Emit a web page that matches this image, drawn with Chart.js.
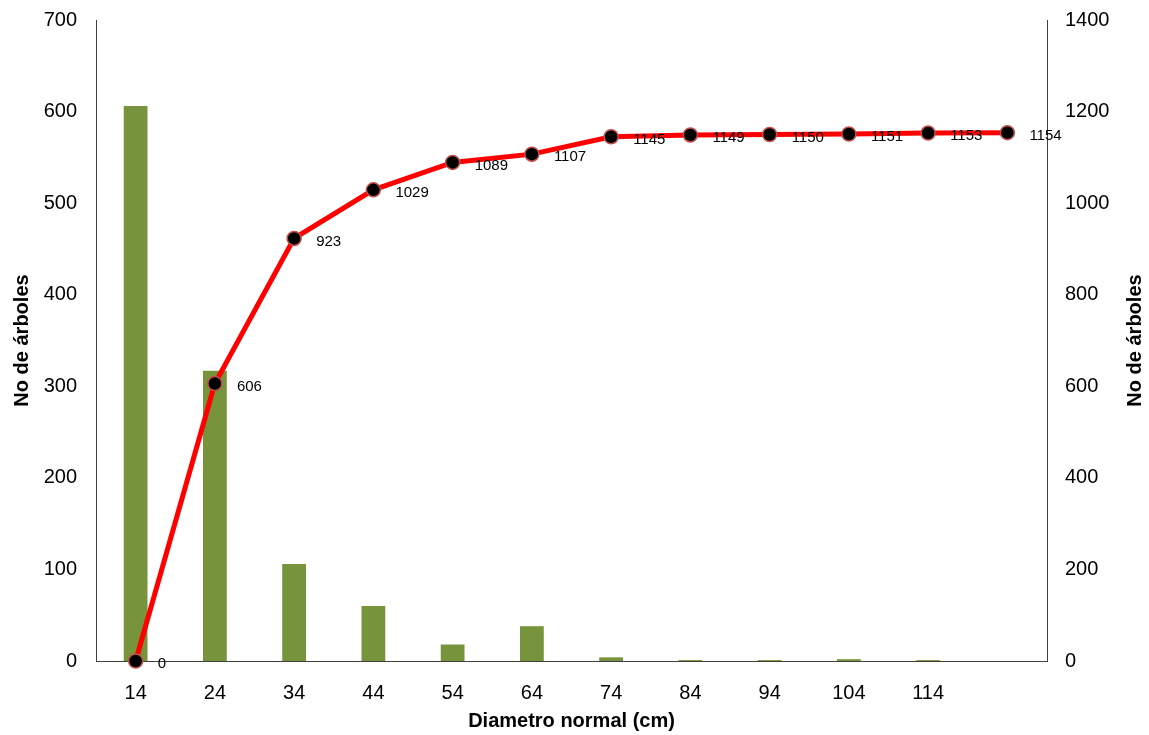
<!DOCTYPE html>
<html lang="es">
<head>
  <meta charset="UTF-8">
  <title>Distribución diamétrica</title>
  <script src="https://cdn.jsdelivr.net/npm/chart.js"></script>
  <style>
    body { margin: 0; background: #fff; overflow: hidden; }
    /* canvas pulled up a little so the plot starts at the same height as the original */
    #wrap { width: 1149px; height: 746px; margin-top: -11px; }
  </style>
</head>
<body>
  <div id="wrap"><canvas id="chart"></canvas></div>

  <script>
    // data
    const diametros = ['14', '24', '34', '44', '54', '64', '74', '84', '94', '104', '114', ''];
    const arboles = [606, 317, 106, 60, 18, 38, 4, 1, 1, 2, 1, null];
    const acumulado = [0, 606, 923, 1029, 1089, 1107, 1145, 1149, 1150, 1151, 1153, 1154];

    const fontFamily = '"Liberation Sans", Arial, sans-serif';
    const rightTitle = 'No de árboles';

    // value labels beside each point of the line, and the right axis title (rotated like the left one)
    const extras = {
      id: 'extras',
      afterDatasetsDraw(chart) {
        const ctx = chart.ctx;
        const meta = chart.getDatasetMeta(1);
        ctx.save();
        ctx.font = '15px ' + fontFamily;
        ctx.fillStyle = '#000';
        ctx.textAlign = 'left';
        ctx.textBaseline = 'middle';
        meta.data.forEach(function (pt, i) {
          ctx.fillText(String(acumulado[i]), pt.x + 22, pt.y + 3);
        });
        ctx.restore();
      },
      afterDraw(chart) {
        const ctx = chart.ctx;
        const area = chart.chartArea;
        ctx.save();
        ctx.translate(1135, (area.top + area.bottom) / 2);
        ctx.rotate(-Math.PI / 2);
        ctx.font = 'bold 20px ' + fontFamily;
        ctx.fillStyle = '#000';
        ctx.textAlign = 'center';
        ctx.textBaseline = 'middle';
        ctx.fillText(rightTitle, 0, 0);
        ctx.restore();
      }
    };

    new Chart(document.getElementById('chart'), {
      data: {
        labels: diametros,
        datasets: [
          {
            type: 'bar',
            label: 'No de árboles',
            data: arboles,
            backgroundColor: '#77933C',
            yAxisID: 'y',
            barPercentage: 0.3,
            categoryPercentage: 1,
            order: 2
          },
          {
            type: 'line',
            label: 'Acumulado',
            data: acumulado,
            borderColor: '#FF0000',
            borderWidth: 5,
            pointRadius: 7,
            pointBackgroundColor: '#000',
            pointBorderColor: '#C0504D',
            pointBorderWidth: 1.5,
            yAxisID: 'y1',
            tension: 0,
            clip: false,
            order: 1
          }
        ]
      },
      options: {
        responsive: true,
        maintainAspectRatio: false,
        animation: false,
        layout: { padding: { top: 9, left: 0, right: 0, bottom: 0 } },
        plugins: {
          legend: { display: false },
          tooltip: { enabled: false }
        },
        scales: {
          x: {
            offset: true,
            grid: { display: false, drawTicks: false },
            border: { display: true, color: '#404040', width: 1 },
            ticks: { color: '#000', font: { size: 20, family: fontFamily }, padding: 20, maxRotation: 0, autoSkip: false },
            title: { display: true, text: 'Diametro normal (cm)', color: '#000', font: { size: 20, weight: 'bold', family: fontFamily }, padding: { top: 0, bottom: 2 } },
            afterFit: function (scale) { scale.height = 74; }
          },
          y: {
            position: 'left',
            min: 0,
            max: 700,
            grid: { display: false, drawTicks: false },
            border: { display: true, color: '#404040', width: 1 },
            ticks: { stepSize: 100, color: '#000', font: { size: 20, family: fontFamily }, padding: 19 },
            title: { display: true, text: 'No de árboles', color: '#000', font: { size: 20, weight: 'bold', family: fontFamily }, padding: { top: 10, bottom: 0 } },
            afterFit: function (scale) { scale.width = 96; }
          },
          y1: {
            position: 'right',
            min: 0,
            max: 1400,
            grid: { display: false, drawTicks: false },
            border: { display: true, color: '#404040', width: 1 },
            ticks: {
              stepSize: 200, color: '#000', font: { size: 20, family: fontFamily }, padding: 18,
              callback: function (v) { return String(v); }
            },
            title: { display: false },
            afterFit: function (scale) { scale.width = 102; }
          }
        }
      },
      plugins: [extras]
    });
  </script>
</body>
</html>
